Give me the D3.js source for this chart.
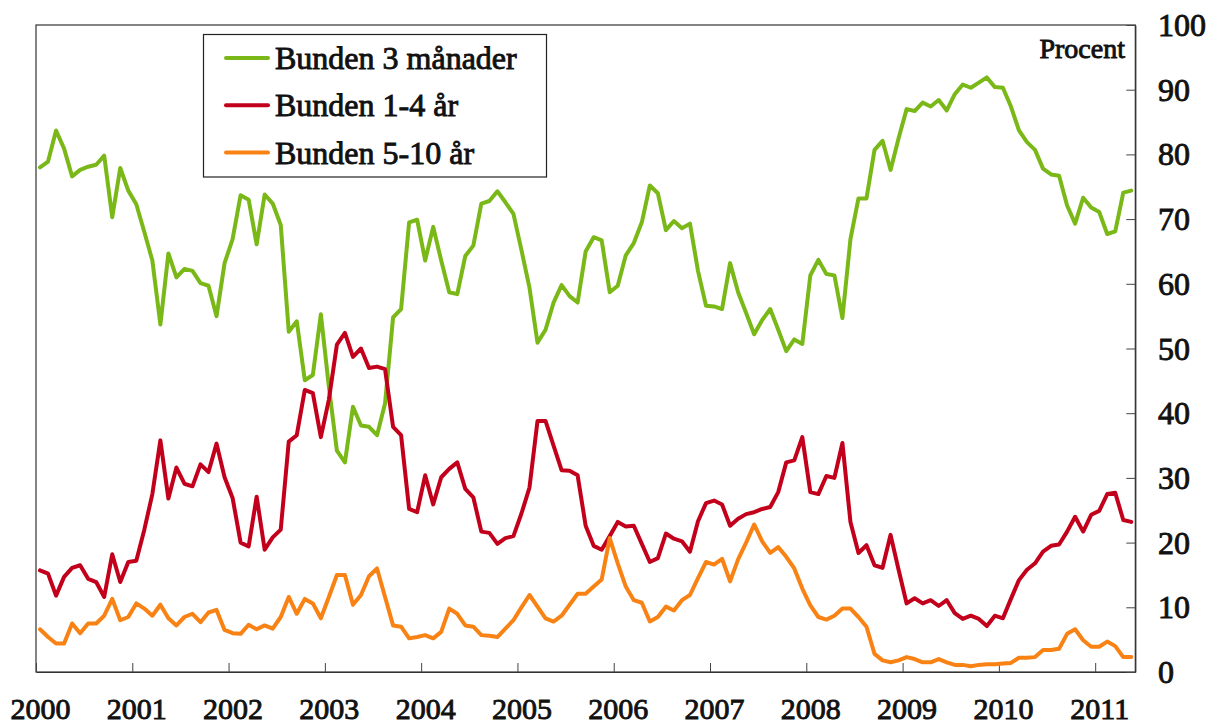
<!DOCTYPE html>
<html>
<head>
<meta charset="utf-8">
<script src="https://cdn.jsdelivr.net/npm/d3@7"></script>
<style>
  html, body { margin: 0; padding: 0; background: #fff; }
  svg { display: block; }
  text { font-family: "Liberation Serif", "DejaVu Serif", serif; fill: #111; stroke: #111; stroke-width: 0.9px; }
</style>
</head>
<body>
<svg id="chart" width="1208" height="726"></svg>
<script>
// Monthly observations, Jan 2000 – May 2011 (percent)
const seriesNames = ["Bunden 3 månader", "Bunden 1-4 år", "Bunden 5-10 år"];
const seriesColors = ["#7ab818", "#c3001c", "#f98214"];

const bunden3m = [
  78.0, 78.9, 83.7, 80.9, 76.6, 77.6, 78.1, 78.4, 79.8, 70.3, 77.9, 74.4,
  72.3, 68.0, 63.6, 53.7, 64.7, 61.0, 62.3, 62.0, 60.1, 59.7, 55.0, 63.2,
  66.9, 73.7, 73.0, 66.1, 73.8, 72.4, 69.1, 52.6, 54.2, 45.1, 45.9, 55.3,
  44.1, 34.2, 32.4, 41.0, 38.1, 37.9, 36.6, 41.5, 54.8, 56.1, 69.5, 69.9,
  63.6, 68.8, 63.6, 58.7, 58.4, 64.3, 65.9, 72.4, 72.8, 74.3, 72.6, 70.8,
  65.2, 59.4, 50.9, 52.9, 57.1, 59.8, 58.1, 57.1, 65.0, 67.2, 66.7, 58.7,
  59.7, 64.4, 66.3, 69.5, 75.2, 74.0, 68.3, 69.7, 68.6, 69.3, 62.0, 56.6,
  56.5, 56.1, 63.2, 58.7, 55.5, 52.2, 54.4, 56.1, 52.9, 49.6, 51.4, 50.7,
  61.3, 63.7, 61.5, 61.3, 54.7, 66.9, 73.2, 73.2, 80.7, 82.1, 77.6, 82.5,
  87.0, 86.7, 88.0, 87.4, 88.4, 86.8, 89.3, 90.8, 90.3, 91.1, 91.9, 90.4,
  90.3, 87.4, 83.7, 81.9, 80.7, 77.8, 76.9, 76.7, 72.1, 69.3, 73.3, 71.8,
  71.1, 67.7, 68.1, 74.1, 74.4
];
const bunden1_4 = [
  15.7, 15.2, 11.8, 14.7, 16.1, 16.5, 14.4, 13.9, 11.6, 18.2, 13.9, 17.0,
  17.2, 22.0, 27.5, 35.8, 26.8, 31.6, 29.1, 28.7, 32.1, 30.9, 35.3, 30.1,
  26.9, 20.0, 19.4, 27.1, 18.9, 20.8, 22.0, 35.6, 36.6, 43.6, 43.1, 36.3,
  42.1, 50.6, 52.4, 48.7, 50.0, 47.0, 47.2, 46.8, 37.9, 36.6, 25.2, 24.7,
  30.4, 25.9, 30.1, 31.4, 32.4, 28.3, 27.0, 21.7, 21.5, 19.8, 20.7, 21.0,
  24.5, 28.5, 38.8, 38.8, 35.0, 31.2, 31.1, 30.4, 22.6, 19.5, 18.9, 21.0,
  23.2, 22.5, 22.6, 19.8, 17.0, 17.6, 21.4, 20.6, 20.2, 18.6, 23.3, 26.1,
  26.5, 25.9, 22.6, 23.7, 24.4, 24.7, 25.2, 25.5, 27.8, 32.4, 32.7, 36.3,
  27.8, 27.5, 30.3, 30.0, 35.4, 23.2, 18.4, 19.6, 16.5, 16.1, 21.2, 15.8,
  10.6, 11.4, 10.6, 11.1, 10.2, 11.1, 9.1, 8.2, 8.7, 8.2, 7.1, 8.7,
  8.3, 11.3, 14.2, 15.8, 16.8, 18.6, 19.5, 19.7, 21.7, 24.0, 21.7, 24.3,
  24.9, 27.5, 27.7, 23.5, 23.2
];
const bunden5_10 = [
  6.6, 5.4, 4.4, 4.4, 7.5, 6.0, 7.5, 7.5, 8.7, 11.3, 8.0, 8.5,
  10.6, 9.8, 8.7, 10.4, 8.3, 7.2, 8.5, 9.0, 7.7, 9.2, 9.6, 6.5,
  6.0, 5.9, 7.3, 6.6, 7.2, 6.7, 8.5, 11.6, 9.0, 11.3, 10.6, 8.3,
  11.6, 15.0, 15.0, 10.4, 11.9, 14.8, 16.0, 11.6, 7.2, 7.0, 5.2, 5.4,
  5.7, 5.2, 6.2, 9.8, 9.0, 7.2, 7.0, 5.7, 5.6, 5.4, 6.7, 8.0,
  10.0, 11.9, 10.1, 8.3, 7.8, 8.7, 10.4, 12.1, 12.1, 13.2, 14.3, 20.7,
  16.8, 13.2, 11.1, 10.7, 7.8, 8.5, 10.1, 9.5, 11.1, 11.9, 14.5, 17.0,
  16.6, 17.5, 14.0, 17.4, 20.0, 22.8, 20.2, 18.4, 19.3, 17.8, 16.0, 12.9,
  10.3, 8.5, 8.1, 8.7, 9.8, 9.8, 8.5, 7.0, 2.8, 1.8, 1.5, 1.8,
  2.3, 2.0, 1.5, 1.5, 2.0, 1.5, 1.1, 1.1, 0.9, 1.1, 1.2, 1.2,
  1.3, 1.4, 2.2, 2.2, 2.3, 3.4, 3.4, 3.6, 5.9, 6.6, 4.9, 3.9,
  3.9, 4.7, 4.0, 2.3, 2.3
];
const yearLabels = ["2000","2001","2002","2003","2004","2005","2006","2007","2008","2009","2010","2011"];
const yTicks = [0, 10, 20, 30, 40, 50, 60, 70, 80, 90, 100];
const unitLabel = "Procent";

const allSeries = [bunden3m, bunden1_4, bunden5_10];

const svg = d3.select("#chart");
const plotL = 36, plotR = 1135.3, plotT = 25, plotB = 672;
const nMonths = 137; // Jan 2000 .. May 2011

const x = d3.scaleLinear().domain([0, nMonths]).range([plotL, plotR]);
const y = d3.scaleLinear().domain([0, 100]).range([plotB, plotT]);

// frame
svg.append("rect")
  .attr("x", plotL).attr("y", plotT)
  .attr("width", plotR - plotL).attr("height", plotB - plotT)
  .attr("fill", "none").attr("stroke", "#333").attr("stroke-width", 1.2);

// bottom axis (ticks inward)
const xAxis = d3.axisBottom(x)
  .tickValues(yearLabels.map((d, i) => i * 12))
  .tickSizeInner(-9).tickSizeOuter(0)
  .tickFormat((d, i) => yearLabels[i]);
const gx = svg.append("g").attr("transform", `translate(0,${plotB})`).call(xAxis);
gx.select(".domain").attr("stroke", "#333").attr("stroke-width", 1.2);
gx.selectAll(".tick line").attr("stroke", "#444").attr("stroke-width", 1);
gx.selectAll(".tick text")
  .attr("y", 47).attr("dy", 0).attr("dx", 4)
  .attr("font-size", 30)
  .attr("font-family", "Liberation Serif")
  .attr("fill", "#111");

// right axis (ticks inward)
const yAxis = d3.axisRight(y)
  .tickValues(yTicks)
  .tickSizeInner(-9).tickSizeOuter(0)
  .tickFormat(d3.format("d"));
const gy = svg.append("g").attr("transform", `translate(${plotR},0)`).call(yAxis);
gy.select(".domain").attr("stroke", "#333").attr("stroke-width", 1.2);
gy.selectAll(".tick line").attr("stroke", "#444").attr("stroke-width", 1);
gy.selectAll(".tick text")
  .attr("x", 22.7).attr("dy", "0.33em")
  .attr("text-anchor", "start")
  .attr("font-size", 32)
  .attr("font-family", "Liberation Serif")
  .attr("fill", "#111");

// lines
const line = d3.line()
  .x((d, i) => x(i + 0.5))
  .y(d => y(d));

svg.append("g").selectAll("path")
  .data(allSeries)
  .join("path")
  .attr("d", d => line(d))
  .attr("fill", "none")
  .attr("stroke", (d, i) => seriesColors[i])
  .attr("stroke-width", 4)
  .attr("stroke-linejoin", "round")
  .attr("stroke-linecap", "round");

// unit label
svg.append("text")
  .attr("x", 1125).attr("y", 58)
  .attr("text-anchor", "end")
  .attr("font-size", 28)
  .text(unitLabel);

// legend
const lg = svg.append("g");
lg.append("rect")
  .attr("x", 203.5).attr("y", 34.5).attr("width", 343).attr("height", 142.5)
  .attr("fill", "#fff").attr("stroke", "#222").attr("stroke-width", 1.2);
seriesNames.forEach((name, i) => {
  const cy = 58 + i * 47.3;
  lg.append("line")
    .attr("x1", 226).attr("x2", 268).attr("y1", cy).attr("y2", cy)
    .attr("stroke", seriesColors[i]).attr("stroke-width", 4)
    .attr("stroke-linecap", "round");
  lg.append("text")
    .attr("x", 275).attr("y", cy + 11)
    .attr("font-size", 32)
    .text(name);
});
</script>
</body>
</html>
